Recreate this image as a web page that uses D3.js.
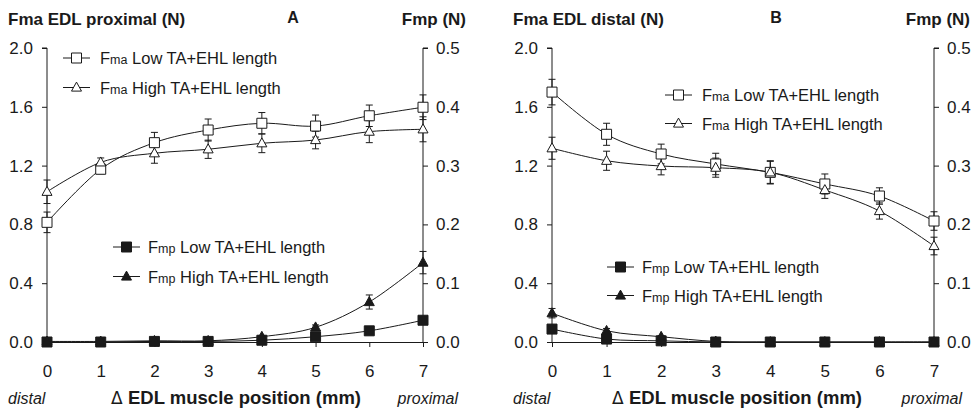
<!DOCTYPE html>
<html>
<head>
<meta charset="utf-8">
<script src="https://cdn.jsdelivr.net/npm/d3@7"></script>
<style>
  body { margin: 0; background: #fff; }
  svg { display: block; font-family: Arial, "Liberation Sans", sans-serif; }
</style>
</head>
<body>
<svg id="chart" width="980" height="414"></svg>
<script>
// Muscle position steps (mm)
const positions = [0, 1, 2, 3, 4, 5, 6, 7];
const leftTicks = [0.0, 0.4, 0.8, 1.2, 1.6, 2.0];
const rightTicks = [0.0, 0.1, 0.2, 0.3, 0.4, 0.5];

// Panel A: EDL proximal force (left axis) and Fmp (right axis)
const aFmaLow      = [0.814, 1.175, 1.356, 1.442, 1.488, 1.469, 1.539, 1.597];
const aFmaLowErr   = [0.070, 0.030, 0.070, 0.075, 0.073, 0.075, 0.073, 0.084];
const aFmaHigh     = [1.022, 1.222, 1.284, 1.311, 1.352, 1.374, 1.431, 1.447];
const aFmaHighErr  = [0.080, 0.030, 0.068, 0.062, 0.064, 0.060, 0.075, 0.085];
const aFmpLow      = [0.000, 0.000, 0.001, 0.001, 0.003, 0.009, 0.019, 0.037];
const aFmpLowErr   = [0, 0, 0, 0, 0.001, 0.002, 0.003, 0.004];
const aFmpHigh     = [0.001, 0.001, 0.002, 0.002, 0.009, 0.025, 0.068, 0.135];
const aFmpHighErr  = [0, 0, 0, 0, 0.002, 0.004, 0.012, 0.019];

// Panel B: EDL distal force (left axis) and Fmp (right axis)
const bFmaLow      = [1.700, 1.413, 1.279, 1.211, 1.154, 1.075, 0.993, 0.823];
const bFmaLowErr   = [0.087, 0.075, 0.067, 0.073, 0.079, 0.068, 0.056, 0.063];
const bFmaHigh     = [1.318, 1.233, 1.197, 1.186, 1.154, 1.034, 0.891, 0.653];
const bFmaHighErr  = [0.075, 0.065, 0.060, 0.065, 0.075, 0.057, 0.055, 0.060];
const bFmpLow      = [0.022, 0.005, 0.002, 0.000, 0.000, 0.000, 0.000, 0.000];
const bFmpLowErr   = [0.003, 0.002, 0, 0, 0, 0, 0, 0];
const bFmpHigh     = [0.049, 0.019, 0.009, 0.001, 0.000, 0.000, 0.000, 0.000];
const bFmpHighErr  = [0.008, 0.004, 0.002, 0, 0, 0, 0, 0];

const seriesNames = ["Low TA+EHL length", "High TA+EHL length"];

const svg = d3.select("#chart");
const ink = "#1a1a1a";

function symbolPath(kind, size) {
  const s = size / 2;
  if (kind === "square") return `M${-s},${-s}H${s}V${s}H${-s}Z`;
  const h = size * 0.9;
  return `M0,${-h * 0.6}L${s},${h * 0.4}L${-s},${h * 0.4}Z`;
}

function drawPanel(p) {
  const g = svg.append("g");
  const x = d3.scaleLinear().domain([0, 7]).range([p.x0, p.x1]);
  const yL = d3.scaleLinear().domain([0, 2]).range([342, 48]);
  const yR = d3.scaleLinear().domain([0, 0.5]).range([342, 48]);

  // axes
  const axL = g.append("g").attr("transform", `translate(${p.x0},0)`)
    .call(d3.axisLeft(yL).tickValues(leftTicks).tickFormat(d3.format(".1f")).tickSize(5).tickPadding(9));
  const axR = g.append("g").attr("transform", `translate(${p.x1},0)`)
    .call(d3.axisRight(yR).tickValues(rightTicks).tickFormat(d3.format(".1f")).tickSize(5).tickPadding(8));
  const axB = g.append("g").attr("transform", `translate(0,342)`)
    .call(d3.axisBottom(x).tickValues(positions).tickFormat(d3.format("d")).tickSize(5).tickSizeOuter(0).tickPadding(18));
  [axL, axR, axB].forEach(a => {
    a.select(".domain").attr("stroke", ink).attr("stroke-width", 1);
    a.selectAll(".tick line").attr("stroke", ink);
    a.selectAll("text").attr("font-size", 17).attr("fill", ink)
      .attr("font-family", "Arial, 'Liberation Sans', sans-serif");
  });
  axL.select(".domain").attr("d", `M-5,48H0V342`);
  axR.select(".domain").attr("d", `M5,48H0V342`);

  const curve = d3.curveCatmullRom.alpha(0);
  const series = [
    { v: p.fmaLow, e: p.fmaLowErr, y: yL, kind: "square", fill: "#fff" },
    { v: p.fmaHigh, e: p.fmaHighErr, y: yL, kind: "triangle", fill: "#fff" },
    { v: p.fmpLow, e: p.fmpLowErr, y: yR, kind: "square", fill: ink },
    { v: p.fmpHigh, e: p.fmpHighErr, y: yR, kind: "triangle", fill: ink }
  ];

  series.forEach(s => {
    const line = d3.line().x((d, i) => x(positions[i])).y(d => s.y(d)).curve(curve);
    g.append("path").attr("d", line(s.v)).attr("fill", "none")
      .attr("stroke", ink).attr("stroke-width", 1);
  });

  series.forEach(s => {
    const eb = g.append("g");
    s.v.forEach((d, i) => {
      if (!s.e[i]) return;
      const cx = x(positions[i]);
      const y1 = s.y(d + s.e[i]), y2 = s.y(Math.max(0, d - s.e[i]));
      eb.append("line").attr("x1", cx).attr("x2", cx).attr("y1", y1).attr("y2", y2)
        .attr("stroke", ink).attr("stroke-width", 1);
      [y1, y2].forEach(yy => eb.append("line").attr("x1", cx - 3.5).attr("x2", cx + 3.5)
        .attr("y1", yy).attr("y2", yy).attr("stroke", ink).attr("stroke-width", 1));
    });
  });

  series.forEach(s => {
    g.append("g").selectAll("path").data(s.v).join("path")
      .attr("transform", (d, i) => `translate(${x(positions[i])},${s.y(d)})`)
      .attr("d", symbolPath(s.kind, 10))
      .attr("fill", s.fill).attr("stroke", ink).attr("stroke-width", 1);
  });

  // legend entries
  const legend = [
    { pos: p.legTop, row: 0, prefix: "ma", kind: "square", fill: "#fff", dx: 37 },
    { pos: p.legTop, row: 1, prefix: "ma", kind: "triangle", fill: "#fff", dx: 37 },
    { pos: p.legBot, row: 0, prefix: "mp", kind: "square", fill: ink, dx: 35 },
    { pos: p.legBot, row: 1, prefix: "mp", kind: "triangle", fill: ink, dx: 35 }
  ];
  legend.forEach(l => {
    const ly = l.pos[1] + l.row * p.legGap;
    const lx = l.pos[0];
    g.append("line").attr("x1", lx).attr("x2", lx + 27).attr("y1", ly).attr("y2", ly)
      .attr("stroke", ink).attr("stroke-width", 1);
    g.append("path").attr("transform", `translate(${lx + 13.5},${ly})`)
      .attr("d", symbolPath(l.kind, 10)).attr("fill", l.fill)
      .attr("stroke", ink).attr("stroke-width", 1);
    const t = g.append("text").attr("x", lx + l.dx).attr("y", ly + 6)
      .attr("font-size", 16.5).attr("fill", ink);
    t.append("tspan").text("F");
    t.append("tspan").attr("font-size", 12.5).text(l.prefix);
    t.append("tspan").text(" " + seriesNames[l.row]);
  });

  // titles
  const title = g.append("text").attr("x", p.titleX).attr("y", 25)
    .attr("font-size", 17).attr("font-weight", "bold").attr("fill", ink);
  title.append("tspan").text("F");
  title.append("tspan").text(p.title.slice(1));
  g.append("text").attr("x", p.letterX).attr("y", 23).attr("text-anchor", "middle")
    .attr("font-size", 16).attr("font-weight", "bold").attr("fill", ink).text(p.letter);
  g.append("text").attr("x", p.rightTitleX).attr("y", 25).attr("text-anchor", "end")
    .attr("font-size", 17).attr("font-weight", "bold").attr("fill", ink).text("Fmp (N)");

  // x-axis captions
  g.append("text").attr("x", p.titleX).attr("y", 404).attr("font-size", 16)
    .attr("font-style", "italic").attr("fill", ink).text("distal");
  g.append("text").attr("x", p.rightTitleX - 8).attr("y", 404).attr("font-size", 16)
    .attr("text-anchor", "end").attr("font-style", "italic").attr("fill", ink).text("proximal");
  const xl = g.append("text").attr("x", p.xLabelX).attr("y", 404).attr("text-anchor", "middle")
    .attr("font-size", 18.5).attr("fill", ink);
  xl.append("tspan").attr("font-family", "'DejaVu Sans', sans-serif").attr("font-size", 17).text("\u0394 ");
  xl.append("tspan").attr("font-weight", "bold").text("EDL muscle position (mm)");
}

drawPanel({
  x0: 47, x1: 423,
  fmaLow: aFmaLow, fmaLowErr: aFmaLowErr, fmaHigh: aFmaHigh, fmaHighErr: aFmaHighErr,
  fmpLow: aFmpLow, fmpLowErr: aFmpLowErr, fmpHigh: aFmpHigh, fmpHighErr: aFmpHighErr,
  legTop: [63, 58], legBot: [113, 247], legGap: 29.5,
  title: "Fma EDL proximal (N)", titleX: 8, letter: "A", letterX: 293, rightTitleX: 466,
  xLabelX: 236
});
drawPanel({
  x0: 552, x1: 934,
  fmaLow: bFmaLow, fmaLowErr: bFmaLowErr, fmaHigh: bFmaHigh, fmaHighErr: bFmaHighErr,
  fmpLow: bFmpLow, fmpLowErr: bFmpLowErr, fmpHigh: bFmpHigh, fmpHighErr: bFmpHighErr,
  legTop: [665, 95], legBot: [607, 267], legGap: 28.5,
  title: "Fma EDL distal (N)", titleX: 513, letter: "B", letterX: 776, rightTitleX: 970,
  xLabelX: 737
});
</script>
</body>
</html>
